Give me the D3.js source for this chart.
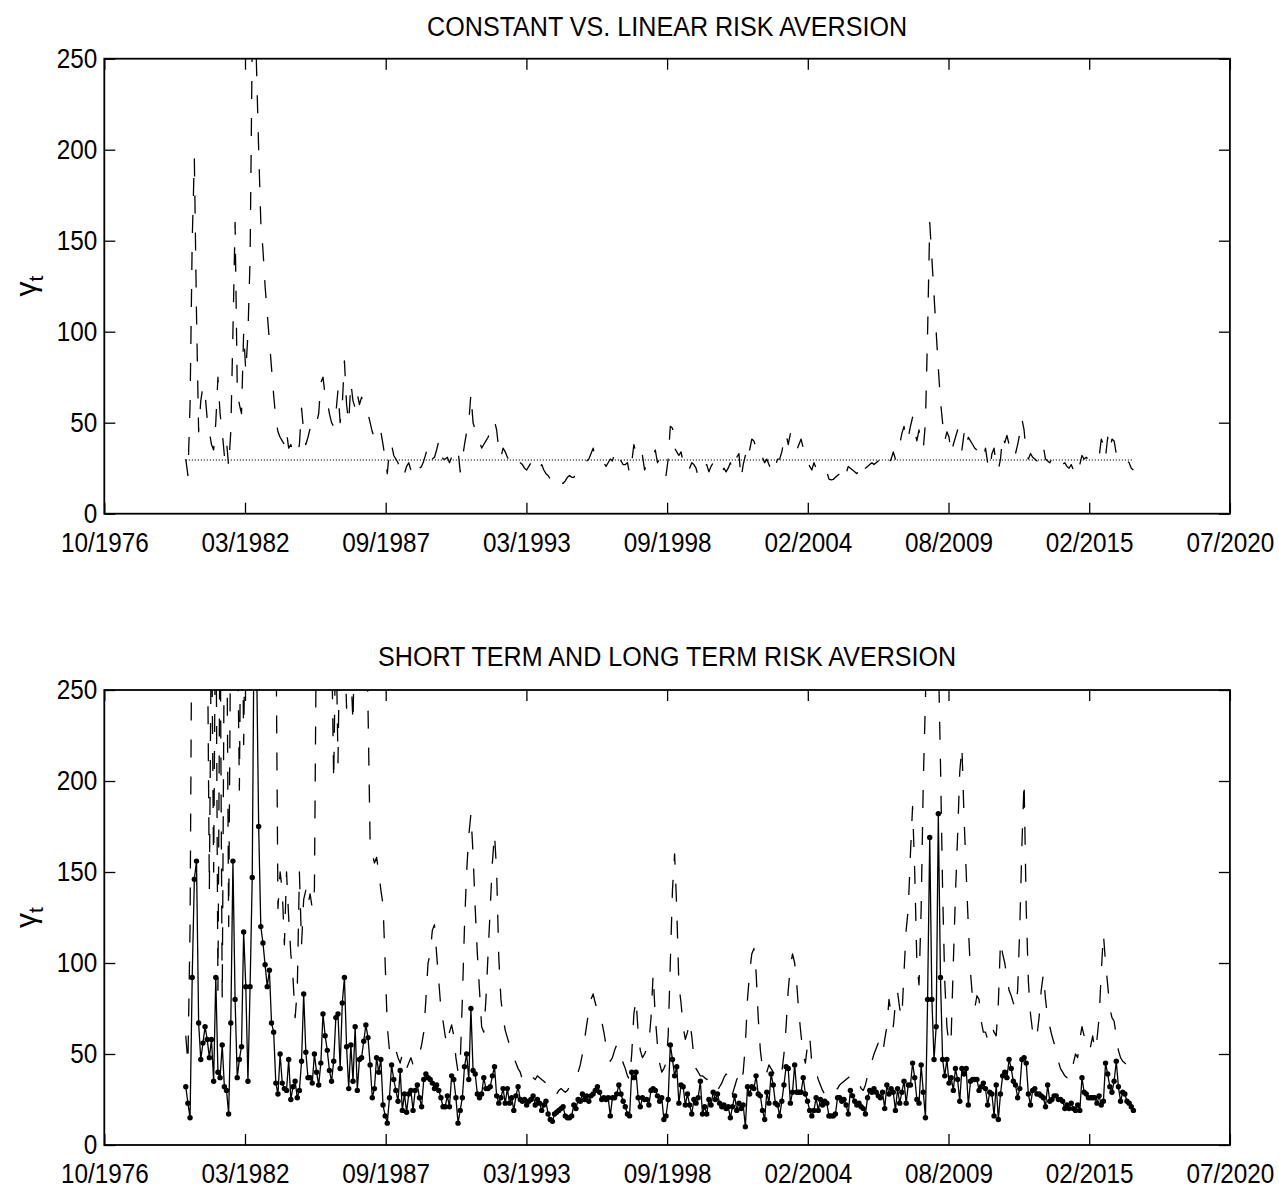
<!DOCTYPE html>
<html><head><meta charset="utf-8">
<script src="https://cdn.jsdelivr.net/npm/d3@7"></script>
<style>
body{margin:0;background:#fff}
svg{display:block}
</style>
</head><body>
<svg id="chart" width="1279" height="1188"></svg>
<script>
// ---------------- DATA ----------------
const startYear = 1979, startMonth = 12;   // first monthly observation: Dec 1979
const xTickLabels = ["10/1976","03/1982","09/1987","03/1993","09/1998","02/2004","08/2009","02/2015","07/2020"];
const yTickValues = [0,50,100,150,200,250];
const titles = ["CONSTANT VS. LINEAR RISK AVERSION","SHORT TERM AND LONG TERM RISK AVERSION"];
const constantRA = 29.5;

const linearRA = [
30,
21,60,150,195,110,45,62,70,66,52,45,38,
35,50,75,55,45,32,40,26,45,100,160,70,
60,55,100,78,99,140,260,300,245,200,160,145,
125,110,95,80,65,52,45,42,40,38,45,36,
38,34,33,32,38,58,45,38,42,47,50,52,
50,55,72,75,65,62,55,50,48,55,68,50,
60,84,60,50,72,62,58,66,60,64,60,58,
55,50,45,42,46,44,45,38,30,22,35,38,
32,30,28,24,20,22,26,28,24,26,29,27,
25,26,29,33,37,32,30,31,35,40,34,30,
30,31,28,31,30,33,35,23,30,38,45,50,
66,50,46,42,40,36,38,40,42,45,48,51,
46,35,31,36,34,31,29,30,28,29,30,28,
27,25,24,26,28,27,26,23,25,27,24,22,
21,19,17,18,19.5,19,17,16.7,18,20,21,20,
20,22,24,26,27,28,29,30,33,36,31,30,
30,30,28,26,28,30,29,33,28,30,29,27,
27,28,22,28,38,33,30,29,32,24,27,30,
30,32,35,28,30,29,28,21,30,48,47,36,
34,32,34,28,30,28,25,28,27,25,20,22,
24,26,27,23,26,28,27,26,24,22,25,23,
25,28,24,28,31,33,19,27,32,28,35,41,
40,36,33,30,31,28,30,27,24,22,26,30,
30,34,40,44,38,44,40,37,35,38,41,36,
33,30,26,24,28,25,24,23,22,21,23,19,
18.6,18.8,20,21,22,24,26,22,26,25,24,23,
22,24,25,21.3,25,26,27,28,27,28,29,30,
30,27,29,28,30,34,30,33,38,44,48,40,
42,48,53,45,40,46,38,36,50,100,160,140,
120,100,80,62,50,40,45,42,33,38,42,46,
38,35,44,37,42,40,38,36,35,33,32,30,
36,28,24,33,36,26,24,30,43,39,43,38,
36,38,33,38,44,52,46,33,30,33,31,30,
29,31,33,37,30,29,28,30,29,27,25,26,
27,28,26,25,27,24,28,25,27,32,30,31,
30,31,30,29,30,31,41,38,31,42,35,41,
40,33,30,31,30,29,29,28,25,24
];

const shortTermRA = [
32,
23,15,92,146,156,67,47,56,65,58,48,58,
35,92,40,37,55,32,30,17,67,156,80,37,
47,54,117,87,35,87,147,310,270,175,120,111,
99,87,96,67,62,34,28,50,34,31,30,47,
25,32,35,26,30,46,83,51,37,37,34,50,
40,33,45,72,60,52,41,35,46,70,72,42,
78,92,54,31,55,35,65,30,47,48,57,66,
59,44,26,31,48,40,47,22,16,12,26,44,
36,30,24,41,19,28,18,28,30,19,30,33,
26,21,36,39,37,36,34,31,33,30,26,21,
21,27,21,38,36,26,12,19,26,43,50,36,
75,41,39,28,26,28,37,31,31,32,38,43,
27,23,26,31,23,31,23,26,19,27,32,25,
24,25,22,24,25,27,22,25,23,19,22,24,
17,14,13,17,18,19,20,21,16,15,15,16,
22,20,25,24,28,25,27,24,27,28,30,32,
29,25,26,25,26,16,26,26,28,33,28,24,
21,17,16,40,37,40,26,21,26,25,25,22,
30,31,30,27,24,26,14,16,25,55,47,38,
43,23,33,32,22,28,22,17,25,23,26,35,
17,21,17,25,22,29,25,28,23,21,22,20,
21,15,21,27,19,23,20,22,10,32,28,32,
31,38,28,27,19,14,29,23,39,33,23,22,
16,24,33,43,42,23,29,44,29,29,29,37,
28,24,19,16,19,26,19,25,22,24,23,16,
16,16,17,26,26,24,25,22,17,30,27,24,
22,23,21,20,17,26,30,29,31,29,27,26,
29,20,33,28,31,29,19,31,23,29,35,23,
33,33,45,37,25,23,44,29,15,80,169,80,
47,65,182,92,47,38,47,34,37,30,42,36,
24,42,39,42,22,35,36,36,36,30,32,34,
31,22,29,28,16,33,14,28,38,40,37,47,
42,35,33,26,31,47,48,45,28,22,30,31,
28,28,27,26,21,33,24,25,27,27,25,25,
24,20,22,20,23,20,19,22,19,37,29,28,
26,26,26,26,23,27,22,24,45,39,32,29,
35,46,32,24,29,28,24,23,21,19
];

const longTermRA = [
60,
45,120,330,380,360,340,320,340,360,300,140,300,
150,320,85,300,80,290,320,120,300,330,310,300,
195,340,220,320,360,400,450,480,430,400,380,360,
340,320,310,300,290,300,130,150,140,110,150,125,
105,92,70,85,150,110,135,140,132,138,130,140,
300,350,380,400,380,340,300,280,200,290,210,300,
330,280,240,290,260,232,300,330,310,290,280,300,
240,165,160,155,158,150,140,132,100,65,52,48,
50,52,48,45,50,47,42,45,48,44,46,50,
50,55,62,80,100,105,118,121,105,90,75,68,
60,55,62,66,60,48,40,45,80,120,150,170,
182,160,130,105,85,65,62,80,105,130,155,171,
150,103,80,70,63,59,55,50,48,45,42,40,
36,35,37,38,39,37,36,38,37,36,35,34,
32,30,28,27,28,30,31,30,29,30,32,34,
35,38,40,44,50,58,66,74,80,83,78,74,
72,68,62,55,50,46,48,52,55,54,50,45,
42,38,36,50,72,80,62,52,48,50,53,56,
70,94,70,55,45,40,42,45,60,100,140,160,
130,88,78,65,58,62,68,60,48,42,40,38,
38,37,36,37,36,34,32,30,32,34,37,39,
38,33,28,32,36,38,34,40,55,80,95,105,
108,95,70,52,42,38,40,44,42,40,38,36,
36,40,50,65,85,98,105,100,88,72,60,50,
45,55,60,45,42,40,36,33,30,28,30,32,
32,31,30,31,33,34,35,36,37,38,37,38,
36,34,31,30,33,38,42,46,50,53,56,52,
50,58,65,80,72,65,78,84,75,70,95,118,
130,160,186,150,100,88,130,200,245,300,320,310,
310,290,270,210,140,90,65,55,60,100,138,170,
205,219,180,150,120,95,80,75,82,80,68,62,
62,58,60,65,62,60,78,112,105,100,92,85,
82,78,75,85,120,165,200,130,90,72,62,58,
60,70,85,94,80,70,65,60,56,50,46,42,
40,38,37,38,37,45,50,48,58,65,60,56,
58,54,60,52,58,70,95,116,100,88,75,70,
68,60,52,48,46,45,44,42,41,40
];

// ---------------- DRAWING ----------------
const FONT = '"Liberation Sans", Arial, Helvetica, sans-serif';
const svg = d3.select("#chart");
const left = 104.3, right = 1229.9;
const xDomain = [1976.75, 2020.5];
const x = d3.scaleLinear().domain(xDomain).range([left, right]);
const xTicks = xTickLabels.map((_, i) => xDomain[0] + i * (xDomain[1] - xDomain[0]) / (xTickLabels.length - 1));
const dates = linearRA.map((_, i) => startYear + (startMonth - 1) / 12 + i / 12);
const toPts = arr => arr.map((v, i) => ({t: dates[i], v}));

function condense(sel, f) {
  sel.each(function () {
    const w = this.getComputedTextLength();
    d3.select(this).attr("textLength", w * f).attr("lengthAdjust", "spacingAndGlyphs");
  });
}

const panels = [
  {top: 58.7, bottom: 513.7, titleY: 36,
   series: [
     {data: toPts(linearRA), dash: "18,19", width: 1.3},
     {data: [{t: dates[0], v: constantRA}, {t: dates[dates.length - 1], v: constantRA}], dash: "1.2,1.8", width: 1}
   ]},
  {top: 690, bottom: 1145, titleY: 666,
   series: [
     {data: toPts(longTermRA), dash: "18,19", width: 1.3},
     {data: toPts(shortTermRA), dash: null, width: 1.3, markers: true}
   ]}
];

panels.forEach((p, pi) => {
  const y = d3.scaleLinear().domain([0, 250]).range([p.bottom, p.top]);
  const g = svg.append("g");
  const clipId = "clip" + pi;
  svg.append("defs").append("clipPath").attr("id", clipId)
    .append("rect").attr("x", left).attr("y", p.top).attr("width", right - left).attr("height", p.bottom - p.top);

  const line = d3.line().x(d => x(d.t)).y(d => y(d.v));
  const plot = g.append("g").attr("clip-path", `url(#${clipId})`);
  p.series.forEach(s => {
    plot.append("path").datum(s.data)
      .attr("d", line)
      .attr("fill", "none").attr("stroke", "#000")
      .attr("stroke-width", s.width)
      .attr("stroke-dasharray", s.dash)
      .attr("stroke-linejoin", "round");
    if (s.markers) {
      plot.selectAll(null).data(s.data).enter().append("circle")
        .attr("cx", d => x(d.t)).attr("cy", d => y(d.v)).attr("r", 2.7).attr("fill", "#000");
    }
  });

  // axes
  const gx = g.append("g").attr("transform", `translate(0,${p.bottom})`)
    .call(d3.axisBottom(x).tickValues(xTicks).tickFormat((d, i) => xTickLabels[i])
      .tickSizeInner(-11).tickSizeOuter(0).tickPadding(19));
  const gy = g.append("g").attr("transform", `translate(${left},0)`)
    .call(d3.axisLeft(y).tickValues(yTickValues).tickFormat(d3.format("d"))
      .tickSizeInner(-11).tickSizeOuter(0).tickPadding(7));
  const gt = g.append("g").attr("transform", `translate(0,${p.top})`)
    .call(d3.axisTop(x).tickValues(xTicks).tickFormat("").tickSizeInner(-11).tickSizeOuter(0));
  const gr = g.append("g").attr("transform", `translate(${right},0)`)
    .call(d3.axisRight(y).tickValues(yTickValues).tickFormat("").tickSizeInner(-11).tickSizeOuter(0));
  [gx, gy, gt, gr].forEach(a => {
    a.select(".domain").remove();
    a.attr("font-size", 27).attr("font-family", FONT).attr("color", "#000");
    a.selectAll("line").attr("stroke-width", 1.3);
    a.selectAll("text").attr("fill", "#000");
  });
  condense(gx.selectAll("text"), 0.9);
  condense(gy.selectAll("text"), 0.9);

  // frame
  g.append("rect").attr("x", left).attr("y", p.top).attr("width", right - left).attr("height", p.bottom - p.top)
    .attr("fill", "none").attr("stroke", "#000").attr("stroke-width", 1.8);

  // title
  const tt = g.append("text").attr("x", (left + right) / 2).attr("y", p.titleY)
    .attr("text-anchor", "middle").attr("font-family", FONT).attr("font-size", 27).attr("fill", "#000")
    .text(titles[pi]);
  condense(tt, 0.93);

  // y label gamma_t
  const cy = (p.top + p.bottom) / 2;
  const yl = g.append("text").attr("transform", `translate(36,${cy}) rotate(-90)`)
    .attr("text-anchor", "middle").attr("font-family", FONT).attr("fill", "#000");
  yl.append("tspan").attr("font-size", 30).text("γ");
  yl.append("tspan").attr("font-size", 21).attr("dy", 7).text("t");
});
</script>
</body></html>
